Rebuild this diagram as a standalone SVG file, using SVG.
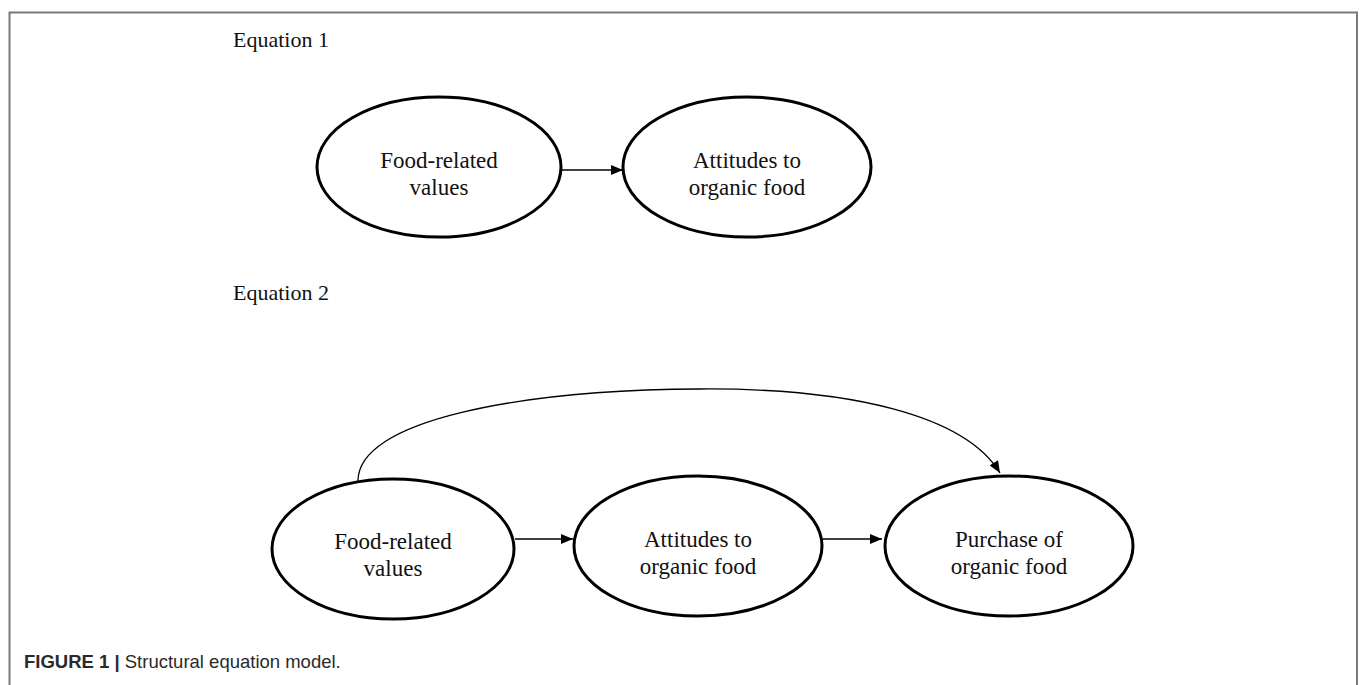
<svg xmlns="http://www.w3.org/2000/svg" width="1360" height="685" viewBox="0 0 1360 685">
<style>
.node ellipse{fill:#fff;stroke:#000;stroke-width:3}
.lbl{font-family:"Liberation Serif","Times New Roman",serif;font-size:23px;fill:#111;text-anchor:middle}
.eq{font-family:"Liberation Serif","Times New Roman",serif;font-size:22px;fill:#111}
.conn{fill:none;stroke:#000;stroke-width:1.3}
.cap{font-family:"Liberation Sans",Arial,sans-serif;font-size:18.5px;fill:#2a2a2a}
</style>
<defs>
<marker id="ah" viewBox="0 0 12 10" refX="12" refY="5" markerWidth="12" markerHeight="10" markerUnits="userSpaceOnUse" orient="auto">
<path d="M0,0 L12,5 L0,10 z" fill="#000"/>
</marker>
</defs>
<rect width="1360" height="685" fill="#fff"/>
<path d="M9.5,685 V12.5 H1357 V685" fill="none" stroke="#7a7a7a" stroke-width="2"/>
<text class="eq" x="233" y="47">Equation 1</text>
<text class="eq" x="233" y="300">Equation 2</text>
<g id="connectors">
<path class="conn" d="M561,170 H623" marker-end="url(#ah)"/>
<path class="conn" d="M515,539 H573" marker-end="url(#ah)"/>
<path class="conn" d="M823,539 H882" marker-end="url(#ah)"/>
<path class="conn" stroke-width="1" d="M358,482 C356,420 520,390 700,389 C850,388 965,415 1000,473" marker-end="url(#ah)"/>
</g>
<g id="e1-values" class="node"><ellipse cx="439" cy="167" rx="122" ry="70"/><text class="lbl" x="439" y="168">Food-related</text><text class="lbl" x="439" y="195">values</text></g>
<g id="e1-attitudes" class="node"><ellipse cx="747" cy="167" rx="124" ry="70"/><text class="lbl" x="747" y="168">Attitudes to</text><text class="lbl" x="747" y="195">organic food</text></g>
<g id="e2-values" class="node"><ellipse cx="393" cy="549" rx="121" ry="70"/><text class="lbl" x="393" y="549">Food-related</text><text class="lbl" x="393" y="576">values</text></g>
<g id="e2-attitudes" class="node"><ellipse cx="698" cy="546" rx="124" ry="70"/><text class="lbl" x="698" y="547">Attitudes to</text><text class="lbl" x="698" y="574">organic food</text></g>
<g id="e2-purchase" class="node"><ellipse cx="1009" cy="546" rx="124" ry="70"/><text class="lbl" x="1009" y="547">Purchase of</text><text class="lbl" x="1009" y="574">organic food</text></g>
<text class="cap" x="24" y="668"><tspan font-weight="bold">FIGURE 1 | </tspan>Structural equation model.</text>
</svg>
